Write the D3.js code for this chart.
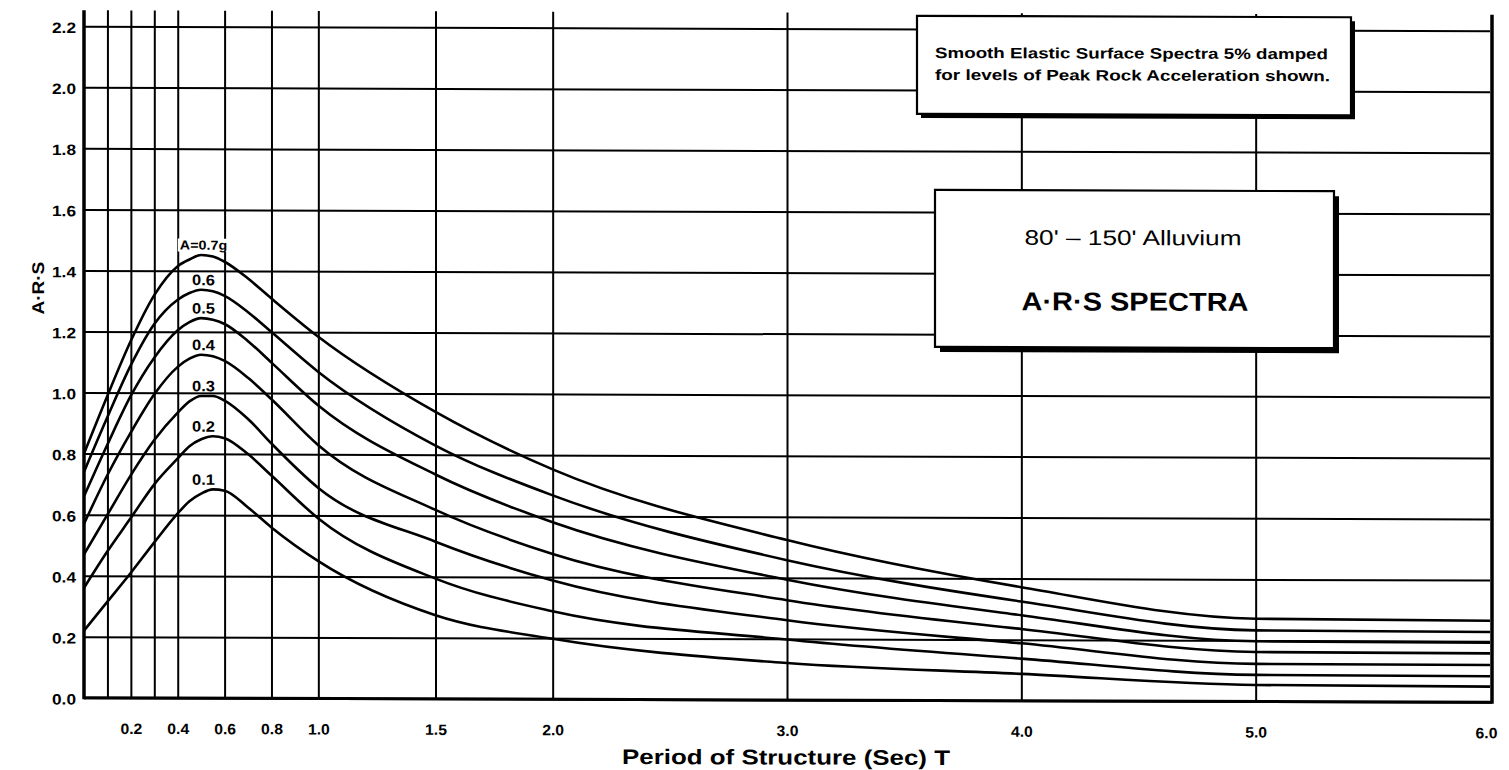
<!DOCTYPE html>
<html>
<head>
<meta charset="utf-8">
<script src="https://cdn.jsdelivr.net/npm/d3@7"></script>
<style>
  html, body { margin: 0; padding: 0; background: #fff; overflow: hidden; }
  text { font-family: "Liberation Sans", Arial, Helvetica, sans-serif; fill: #000; }
</style>
</head>
<body>
<svg id="chart" width="1509" height="770"></svg>
<script>
// Period of structure T (sec) at which the spectra are sampled
const periods = [0, 0.1, 0.2, 0.3, 0.4, 0.45, 0.5, 0.55, 0.6, 0.7, 0.8, 1.0, 1.5, 2.0, 3.0, 4.0, 5.0, 6.0];

// A·R·S ordinates for each level of peak rock acceleration
const levels = ["0.7", "0.6", "0.5", "0.4", "0.3", "0.2", "0.1"];
const ars07 = [0.80, 0.99, 1.17, 1.32, 1.415, 1.437, 1.452, 1.447, 1.43, 1.375, 1.31, 1.185, 0.94, 0.753, 0.524, 0.372, 0.271, 0.267];
const ars06 = [0.74, 0.92, 1.09, 1.225, 1.305, 1.327, 1.338, 1.333, 1.318, 1.265, 1.20, 1.07, 0.83, 0.668, 0.458, 0.325, 0.233, 0.230];
const ars05 = [0.66, 0.83, 0.99, 1.115, 1.205, 1.232, 1.245, 1.24, 1.226, 1.17, 1.10, 0.96, 0.735, 0.58, 0.394, 0.28, 0.197, 0.195];
const ars04 = [0.57, 0.73, 0.87, 0.995, 1.085, 1.112, 1.125, 1.12, 1.105, 1.05, 0.98, 0.83, 0.619, 0.476, 0.327, 0.235, 0.162, 0.160];
const ars03 = [0.47, 0.60, 0.73, 0.845, 0.935, 0.972, 0.99, 0.99, 0.975, 0.915, 0.835, 0.69, 0.515, 0.389, 0.261, 0.188, 0.123, 0.122];
const ars02 = [0.36, 0.48, 0.59, 0.70, 0.785, 0.825, 0.848, 0.858, 0.852, 0.80, 0.73, 0.59, 0.394, 0.288, 0.198, 0.138, 0.087, 0.085];
const ars01 = [0.22, 0.315, 0.41, 0.51, 0.605, 0.645, 0.67, 0.684, 0.68, 0.625, 0.56, 0.45, 0.274, 0.198, 0.121, 0.088, 0.054, 0.051];
const curveLabels = ["A=0.7g", "0.6", "0.5", "0.4", "0.3", "0.2", "0.1"];

// Grid and tick values
const xGridValues = [0.1, 0.2, 0.3, 0.4, 0.6, 0.8, 1.0, 1.5, 2.0, 3.0, 4.0, 5.0];
const xTickLabels = [0.2, 0.4, 0.6, 0.8, 1.0, 1.5, 2.0, 3.0, 4.0, 5.0, 6.0];
const yTicks = [0, 0.2, 0.4, 0.6, 0.8, 1.0, 1.2, 1.4, 1.6, 1.8, 2.0, 2.2];

// Texts
const noteLines = ["Smooth Elastic Surface Spectra 5% damped", "for levels of Peak Rock Acceleration shown."];
const siteLine = "80' \u2013 150' Alluvium";
const spectraLine = "A\u00B7R\u00B7S SPECTRA";
const xTitle = "Period of Structure (Sec) T";
const yTitle = "A\u00B7R\u00B7S";

const series = [ars07, ars06, ars05, ars04, ars03, ars02, ars01].map((vals, i) => ({
  level: levels[i],
  label: curveLabels[i],
  points: periods.map((t, j) => ({ t, v: vals[j] }))
}));

// ---- layout ----
const plotLeft = 84, plotRight = 1490, plotBottom = 697.5, plotTop = 10;
const x = d3.scaleLinear().domain([0, 6]).range([plotLeft, plotRight]);
const y = d3.scaleLinear().domain([0, 2.2]).range([plotBottom, 26]);

const svg = d3.select("#chart");
const root = svg.append("g").attr("transform", "skewY(0.18)");

// stretch a text selection horizontally by factor k (or to a fixed width)
function stretch(sel, k, fixed) {
  sel.each(function () {
    const w = fixed || this.getComputedTextLength() * k;
    d3.select(this).attr("textLength", w).attr("lengthAdjust", "spacingAndGlyphs");
  });
}

// Horizontal grid lines
const yGrid = root.append("g")
  .attr("transform", `translate(${plotLeft},0)`)
  .call(d3.axisLeft(y).tickValues(yTicks).tickSize(-(plotRight - plotLeft)).tickFormat(""));
yGrid.select(".domain").remove();
yGrid.selectAll(".tick line").attr("stroke", "#000").attr("stroke-width", 2);

// Vertical grid lines
const xGrid = root.append("g")
  .attr("transform", `translate(0,${plotBottom})`)
  .call(d3.axisBottom(x).tickValues(xGridValues).tickSize(-(plotBottom - plotTop)).tickFormat(""));
xGrid.select(".domain").remove();
xGrid.selectAll(".tick line").attr("stroke", "#000").attr("stroke-width", 2);

// Frame: left axis, baseline and right edge
root.append("line").attr("x1", plotLeft).attr("x2", plotLeft).attr("y1", plotTop).attr("y2", plotBottom + 1.5)
  .attr("stroke", "#000").attr("stroke-width", 3.5);
root.append("line").attr("x1", plotLeft).attr("x2", plotRight + 2).attr("y1", plotBottom).attr("y2", plotBottom)
  .attr("stroke", "#000").attr("stroke-width", 3);
root.append("line").attr("x1", plotRight + 2).attr("x2", plotRight + 2).attr("y1", plotTop).attr("y2", plotBottom + 1.5)
  .attr("stroke", "#000").attr("stroke-width", 3.5);

// Y tick labels
const yLab = root.append("g")
  .attr("transform", `translate(${plotLeft - 8},0)`)
  .call(d3.axisLeft(y).tickValues(yTicks).tickSize(0).tickPadding(0).tickFormat(d3.format(".1f")));
yLab.select(".domain").remove();
yLab.selectAll("text")
  .attr("font-family", "Liberation Sans, Arial, sans-serif")
  .attr("font-size", 15).attr("font-weight", "bold").attr("fill", "#000")
  .attr("dy", "0.42em");
stretch(yLab.selectAll("text"), 1.15);

// X tick labels
const xLab = root.append("g")
  .attr("transform", `translate(0,${plotBottom})`)
  .call(d3.axisBottom(x).tickValues(xTickLabels).tickSize(0).tickPadding(0).tickFormat(d3.format(".1f")));
xLab.select(".domain").remove();
xLab.selectAll("text")
  .attr("font-family", "Liberation Sans, Arial, sans-serif")
  .attr("font-size", 15).attr("font-weight", "bold").attr("fill", "#000")
  .attr("y", 36).attr("dy", 0);
xLab.selectAll(".tick").filter(d => d === 6).select("text").attr("dx", -4);
stretch(xLab.selectAll("text"), 1.05);

// Spectra curves
const line = d3.line()
  .x(d => x(d.t))
  .y(d => y(d.v))
  .curve(d3.curveMonotoneX);

root.append("g").selectAll("path")
  .data(series)
  .join("path")
  .attr("d", d => line(d.points))
  .attr("fill", "none")
  .attr("stroke", "#000")
  .attr("stroke-width", 2.6)
  .attr("stroke-linejoin", "round");

// Curve labels, just above each peak
const labG = root.append("g");
series.forEach((s, i) => {
  const peak = d3.max(s.points, p => p.v);
  const t = labG.append("text")
    .attr("x", x(0.51))
    .attr("y", y(peak) - 10)
    .attr("dy", "0.36em")
    .attr("text-anchor", "middle")
    .attr("font-size", i === 0 ? 13 : 15)
    .attr("font-weight", "bold")
    .text(s.label);
  stretch(t, 1.1);
  if (i === 0) {
    const b = t.node().getBBox();
    labG.insert("rect", "text")
      .attr("x", b.x - 2).attr("y", b.y + 1)
      .attr("width", b.width + 4).attr("height", b.height - 2)
      .attr("fill", "#fff");
  }
});

// Boxes with a drop shadow
function shadowBox(x0, y0, w, h, off) {
  root.append("rect").attr("x", x0 + off).attr("y", y0 + off).attr("width", w).attr("height", h)
    .attr("fill", "#000");
  root.append("rect").attr("x", x0).attr("y", y0).attr("width", w).attr("height", h)
    .attr("fill", "#fff").attr("stroke", "#000").attr("stroke-width", 2.2);
}

// Note box (top right)
shadowBox(917, 13, 434, 98, 4);
const n1 = root.append("text").attr("x", 935).attr("y", 55)
  .attr("font-size", 15).attr("font-weight", "bold").text(noteLines[0]);
stretch(n1, 1, 393);
const n2 = root.append("text").attr("x", 935).attr("y", 77)
  .attr("font-size", 15).attr("font-weight", "bold").text(noteLines[1]);
stretch(n2, 1, 395);

// Site box
shadowBox(935, 187, 399, 157, 5);
const s1 = root.append("text").attr("x", 1133).attr("y", 241.5).attr("text-anchor", "middle")
  .attr("font-size", 21).text(siteLine);
stretch(s1, 1, 217);
const s2 = root.append("text").attr("x", 1135).attr("y", 307).attr("text-anchor", "middle")
  .attr("font-size", 26).attr("font-weight", "bold").text(spectraLine);
stretch(s2, 1, 227);

// Axis titles
const xt = root.append("text").attr("x", 786).attr("y", 762).attr("text-anchor", "middle")
  .attr("font-size", 21).attr("font-weight", "bold").text(xTitle);
stretch(xt, 1, 328);
const yt = root.append("text").attr("transform", "translate(44,288) rotate(-90)")
  .attr("text-anchor", "middle").attr("font-size", 17).attr("font-weight", "bold").text(yTitle);
stretch(yt, 1.12);
</script>
</body>
</html>
